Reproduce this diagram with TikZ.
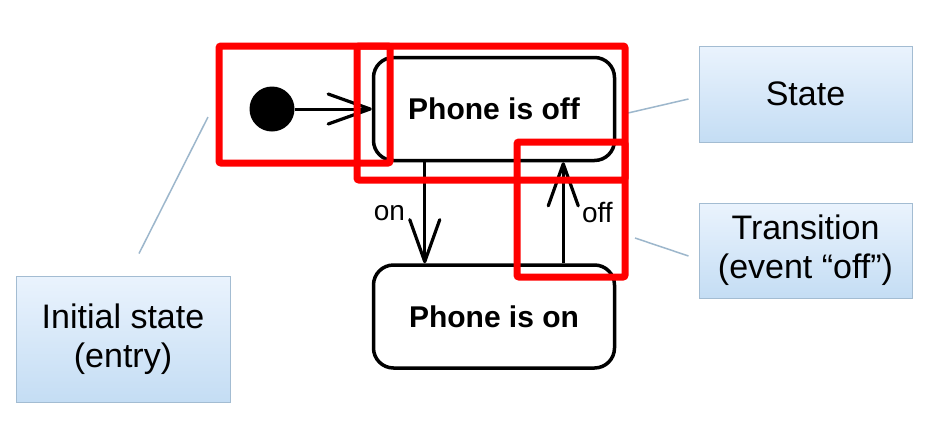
\documentclass[tikz,border=0pt]{standalone}
\usepackage{fontspec}
\setmainfont{Liberation Sans}
\usetikzlibrary{arrows.meta,positioning}
\definecolor{notetop}{HTML}{EAF3FD}
\definecolor{notebot}{HTML}{C4DDF4}
\definecolor{noteline}{HTML}{A3BCD2}
\definecolor{linkline}{HTML}{9DB7CC}

\begin{document}
\begin{tikzpicture}[x=1pt,y=-1pt, >={Straight Barb[length=42pt,width=30pt,line width=3.2pt,round]},
  st/.style={draw,line width=3.5pt,rounded corners=20pt,align=center,minimum width=241pt,minimum height=103pt,font=\fontsize{30}{34}\selectfont\bfseries},
  ini/.style={circle,fill=black,minimum size=45pt,inner sep=0pt},
  tr/.style={->,line width=3pt},
  lbl/.style={font=\fontsize{28}{32}\selectfont},
  note/.style={draw=noteline,line width=1pt,top color=notetop,bottom color=notebot,align=center,minimum width=213pt,font=\fontsize{34}{39}\selectfont},
  hl/.style={draw=red,line width=7pt,rounded corners=2pt},
  lk/.style={draw=linkline,line width=1.5pt}]
  \useasboundingbox (0,0) rectangle (931,429);
  \fill[white] (0,0) rectangle (931,429);
  % states
  \node[ini] (init) at (272,109) {};
  \node[st] (off) at (494,109) {Phone is off};
  \node[st,below=101pt of off] (on) {Phone is on};
  \draw[tr] (init) -- (off);
  \draw[tr] ([xshift=53pt]off.south west) -- ([xshift=53pt]on.north west) node[midway,lbl,left=15pt] {on};
  \draw[tr] ([xshift=-53pt]on.north east) -- ([xshift=-53pt]off.south east) node[midway,lbl,right=14pt] {off};
  % callouts
  \node[note,minimum height=96pt] (state) at (805.5,94) {State};
  \node[note,minimum height=95pt,below=60pt of state] (trans) {Transition\\(event “off”)};
  \node[note,minimum height=126pt,minimum width=214pt] (entry) at (123,339) {Initial state\\(entry)};
  \coordinate (stateend) at (628,113);
  \coordinate (transend) at (635,238);
  \coordinate (entryend) at (208,117);
  \draw[lk] ([xshift=-10pt,yshift=-5pt]state.west) -- (stateend);
  \draw[lk] ([xshift=-10pt,yshift=-5.5pt]trans.west) -- (transend);
  \draw[lk] ([xshift=16pt,yshift=22pt]entry.north) -- (entryend);
  % highlights
  \draw[hl] (219,46) rectangle (390,163);
  \draw[hl] (357,46) rectangle (625,180);
  \draw[hl] (517,142) rectangle (625,277);
\end{tikzpicture}
\end{document}
